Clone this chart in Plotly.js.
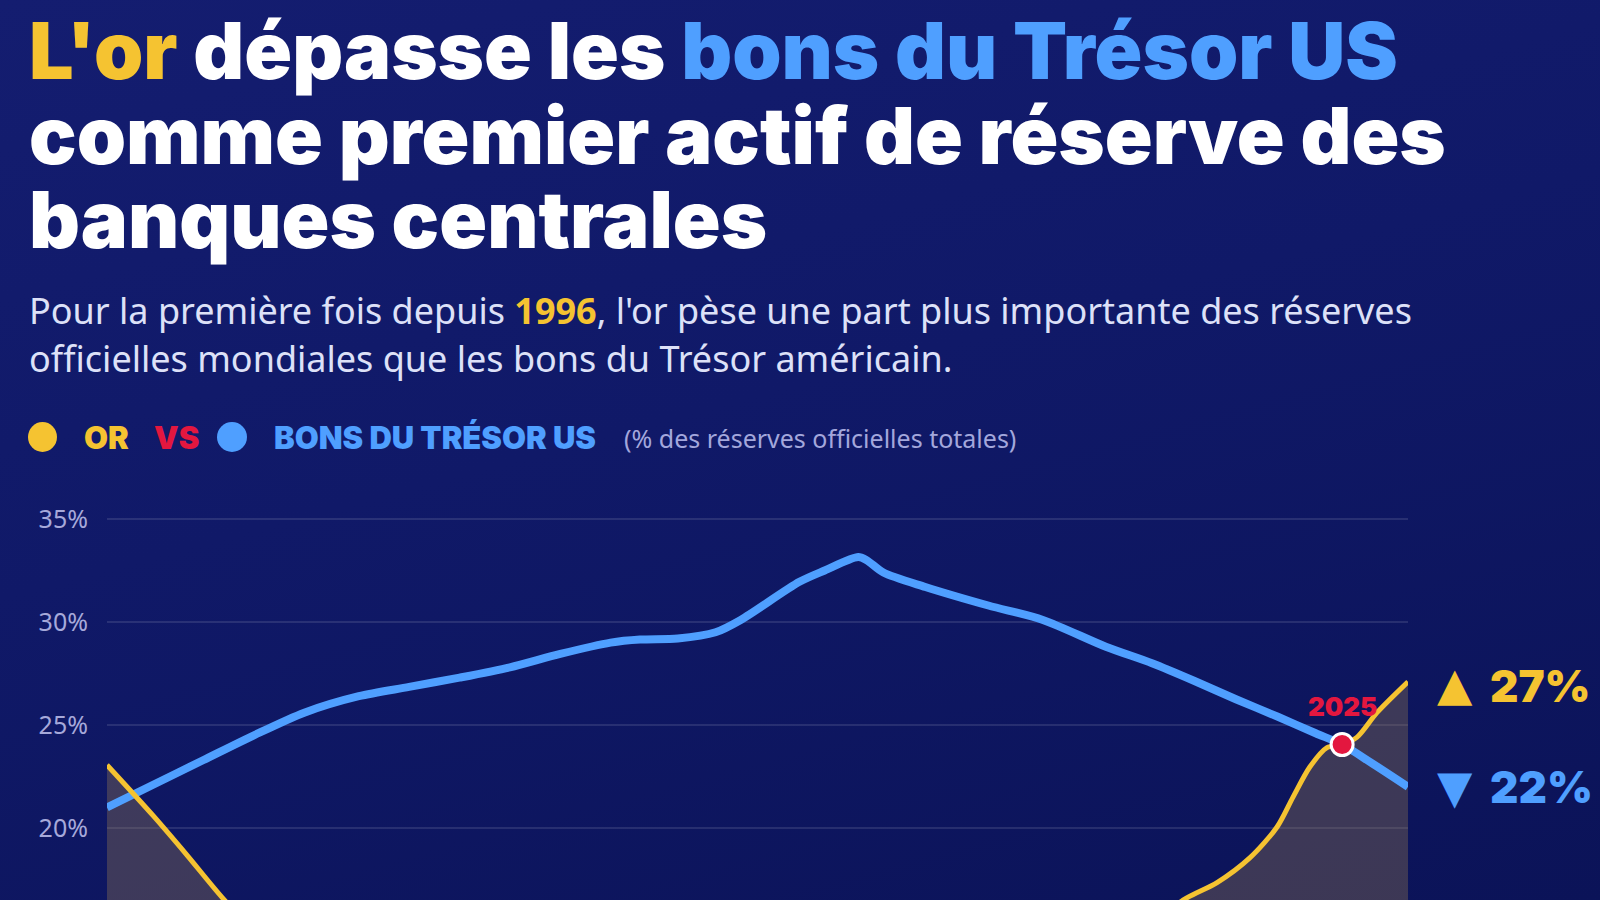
<!DOCTYPE html>
<html><head><meta charset="utf-8">
<script src="https://cdn.plot.ly/plotly-3.0.1.min.js"></script>
<style>
html,body{margin:0;padding:0;width:1600px;height:900px;overflow:hidden;
background:linear-gradient(165deg,#141d70 0%,#101968 45%,#0b1358 100%);}
#chart{width:1600px;height:900px;}
</style></head><body><div id="chart"></div>
<script>
// ---- data ----
const treasuryYears = [1995.5, 1996.6, 1997.8, 1999.0, 2000.2, 2001.5, 2002.7, 2003.9, 2005.1, 2006.3, 2007.5, 2008.2, 2009.1, 2010.0, 2010.6, 2012.0, 2012.6, 2013.4, 2013.6, 2014.0, 2015.0, 2016.5, 2017.8, 2019.3, 2020.4, 2021.4, 2022.4, 2023.4, 2024.3, 2024.93, 2025.6, 2026.5];
const treasuryShare = [21.0, 22.1, 23.3, 24.5, 25.6, 26.4, 26.85, 27.3, 27.8, 28.45, 29.0, 29.15, 29.2, 29.5, 30.1, 31.95, 32.5, 33.15, 33.0, 32.4, 31.7, 30.8, 30.1, 28.8, 28.0, 27.15, 26.25, 25.4, 24.6, 24.05, 23.2, 22.0];
const goldYears = [1995.5, 1996.6, 1997.4, 1998.3, 1999.5, 2001, 2003, 2005, 2008, 2011, 2014, 2017, 2019.3, 2020.4, 2021.14, 2021.95, 2022.73, 2023.38, 2023.76, 2024.16, 2024.57, 2024.93, 2025.28, 2025.76, 2026.5];
const goldShare = [23.06, 20.6, 18.7, 16.5, 14.0, 12.3, 11.2, 10.6, 10.2, 11.0, 11.5, 12.2, 13.4, 15.2, 16.5, 17.35, 18.55, 20.05, 21.5, 22.96, 23.9, 24.05, 24.4, 25.6, 27.1];
const crossYear = [2024.93];
const crossShare = [24.05];
const crossLabel = ['2025'];
const yTickValues = [15, 20, 25, 30, 35];
const yTickLabels = ['15%', '20%', '25%', '30%', '35%'];
const goldEndValue = '27%';
const treasuryEndValue = '22%';
const titleLines = [
  '<span style="color:#f5c331">L\'or</span> dépasse les <span style="color:#4f9fff">bons du Trésor US</span>',
  'comme premier actif de réserve des',
  'banques centrales'
];
const subtitleLines = [
  'Pour la première fois depuis <span style="color:#f5c331;font-weight:bold">1996</span>, l\'or pèse une part plus importante des réserves',
  'officielles mondiales que les bons du Trésor américain.'
];
const legendItems = ['OR', 'VS', 'BONS DU TRÉSOR US'];
const legendNote = '(% des réserves officielles totales)';

// ---- styling ----
const GOLD = '#f5c331', BLUE = '#4f9fff', RED = '#e3173f', WHITE = '#ffffff';
const W = 1600, H = 900, L = 107, R = 192, T = 480, B = 0;
const PW = W - L - R, PH = H - T - B;
const px = x => (x - L) / PW;
const py = y => (H - B - y) / PH;
const TITLE_FONT = 'Inter, Lato, "Noto Sans", sans-serif';
const BODY_FONT = '"Noto Sans", "Open Sans", sans-serif';

const traces = [
  { x: goldYears, y: goldShare, type: 'scatter', mode: 'lines', fill: 'tozeroy',
    fillcolor: 'rgba(160,130,80,0.33)', line: { width: 0, shape: 'spline', smoothing: 0.8 },
    hoverinfo: 'skip', showlegend: false },
  { x: treasuryYears, y: treasuryShare, type: 'scatter', mode: 'lines',
    line: { color: BLUE, width: 8, shape: 'spline', smoothing: 0.8 }, showlegend: false },
  { x: goldYears, y: goldShare, type: 'scatter', mode: 'lines',
    line: { color: GOLD, width: 5, shape: 'spline', smoothing: 0.8 }, showlegend: false },
  { x: crossYear, y: crossShare, type: 'scatter', mode: 'markers',
    marker: { color: RED, size: 22, line: { color: WHITE, width: 3 } }, showlegend: false }
];

const ann = [];
const titleMid = [50, 135, 219];
titleLines.forEach((t, i) => ann.push({ xref: 'paper', yref: 'paper', x: px(27), y: py(titleMid[i]),
  xanchor: 'left', yanchor: 'middle', showarrow: false, text: t,
  font: { family: TITLE_FONT, size: 79, weight: 900, color: WHITE } }));
const subMid = [310, 359];
subtitleLines.forEach((t, i) => ann.push({ xref: 'paper', yref: 'paper', x: px(27), y: py(subMid[i]),
  xanchor: 'left', yanchor: 'middle', showarrow: false, text: t,
  font: { family: BODY_FONT, size: 36, color: '#dde1f8' } }));
const legX = [82, 152, 272], legC = [GOLD, RED, BLUE];
legendItems.forEach((t, i) => ann.push({ xref: 'paper', yref: 'paper', x: px(legX[i]), y: py(438),
  xanchor: 'left', yanchor: 'middle', showarrow: false, text: t,
  font: { family: TITLE_FONT, size: 31, weight: 900, color: legC[i] } }));
ann.push({ xref: 'paper', yref: 'paper', x: px(622), y: py(438), xanchor: 'left', yanchor: 'middle',
  showarrow: false, text: legendNote, font: { family: BODY_FONT, size: 25, color: '#a3a7dc' } });
// end labels: triangle + value
const gy = goldShare[goldShare.length - 1], gx = goldYears[goldYears.length - 1];
const ty = treasuryShare[treasuryShare.length - 1], tx = treasuryYears[treasuryYears.length - 1];
ann.push({ x: gx, y: gy, xanchor: 'left', yanchor: 'middle', xshift: 27, yshift: -2, showarrow: false,
  text: '▲', font: { family: '"DejaVu Sans", sans-serif', size: 46, color: GOLD } });
ann.push({ x: gx, y: gy, xanchor: 'left', yanchor: 'middle', xshift: 80, yshift: -4, showarrow: false,
  text: goldEndValue, font: { family: TITLE_FONT, size: 44, weight: 900, color: GOLD } });
ann.push({ x: tx, y: ty, xanchor: 'left', yanchor: 'middle', xshift: 27, yshift: 0, showarrow: false,
  text: '▼', font: { family: '"DejaVu Sans", sans-serif', size: 46, color: BLUE } });
ann.push({ x: tx, y: ty, xanchor: 'left', yanchor: 'middle', xshift: 80, yshift: 0, showarrow: false,
  text: treasuryEndValue, font: { family: TITLE_FONT, size: 44, weight: 900, color: BLUE } });
ann.push({ x: crossYear[0], y: crossShare[0], xanchor: 'center', yanchor: 'middle', yshift: 38,
  showarrow: false, text: crossLabel[0], font: { family: TITLE_FONT, size: 26, weight: 900, color: RED } });

const shapes = [
  { type: 'circle', xref: 'paper', yref: 'paper', x0: px(28), x1: px(57), y0: py(452), y1: py(422),
    fillcolor: GOLD, line: { width: 0 } },
  { type: 'circle', xref: 'paper', yref: 'paper', x0: px(217), x1: px(247), y0: py(452), y1: py(422),
    fillcolor: BLUE, line: { width: 0 } }
];

const layout = {
  width: W, height: H, margin: { l: L, r: R, t: T, b: B, pad: 0 },
  paper_bgcolor: 'rgba(0,0,0,0)', plot_bgcolor: 'rgba(0,0,0,0)',
  xaxis: { range: [1995.5, 2026.5], showgrid: false, zeroline: false, showticklabels: false, showline: false, fixedrange: true },
  yaxis: { range: [16.505, 36.893], tickvals: yTickValues, ticktext: yTickLabels, showgrid: true,
    gridcolor: 'rgba(255,255,255,0.11)', gridwidth: 2, zeroline: false, showline: false,
    ticklabelstandoff: 18, tickfont: { family: BODY_FONT, size: 25, color: '#a6a9da' }, fixedrange: true },
  annotations: ann, shapes: shapes, showlegend: false, hovermode: false
};
Plotly.newPlot('chart', traces, layout, { displayModeBar: false, staticPlot: true });
</script></body></html>
